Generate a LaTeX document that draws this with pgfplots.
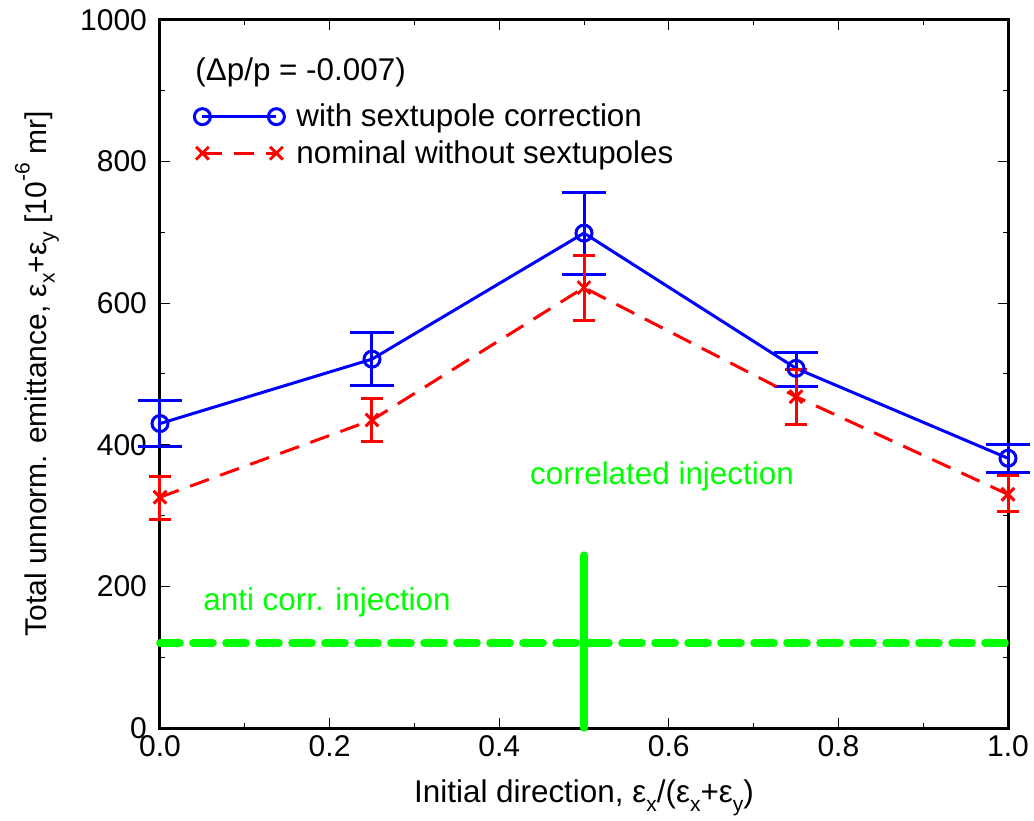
\documentclass[border=0pt]{standalone}
\usepackage{fontspec}
\setmainfont{Liberation Sans}
\usepackage{pgfplots}
\pgfplotsset{compat=1.18}
\usepackage{pgfplotstable}

\definecolor{gblue}{RGB}{0,0,255}
\definecolor{gred}{RGB}{255,0,0}
\definecolor{ggreen}{RGB}{0,255,0}

\newcommand\sub[1]{\raisebox{-0.28em}{\fontsize{10.5}{10.5}\selectfont #1}}
\newcommand\super[1]{\raisebox{0.55em}{\fontsize{10.5}{10.5}\selectfont #1}}

% x, value, upper error, lower error
\pgfplotstableread{
x    y    ep   em
0.00 430  32   33
0.25 521  37   37
0.50 699  58   59
0.75 508  23   25
1.00 381  20   20
}\withsext

\pgfplotstableread{
x    y    ep   em
0.00 326  29   32
0.25 435  30   30
0.50 622  45   47
0.75 468  39   40
1.00 330  27   24
}\nominal

\begin{document}
\begin{tikzpicture}[font=\fontsize{15}{18}\selectfont]
\begin{axis}[
  name=ax,
  scale only axis,
  width=424pt, height=354pt,
  xmin=0, xmax=1, ymin=0, ymax=1000,
  clip=false,
  axis line style={line width=1.5pt},
  tick style={black, line width=0.5pt},
  tick align=inside,
  major tick length=5pt,
  minor tick length=2.5pt,
  xtick={0,0.2,0.4,0.6,0.8,1.0},
  ytick={0,200,400,600,800,1000},
  minor x tick num=1,
  minor y tick num=1,
  xticklabel style={/pgf/number format/.cd, fixed, fixed zerofill, precision=1},
  yticklabel style={/pgf/number format/1000 sep={}, xshift=-3pt},
  /pgf/number format/assume math mode=true,
  scaled x ticks=false,
  xlabel={Initial direction, ε\sub{x}/(ε\sub{x}+ε\sub{y})},
  ylabel={Total unnorm. emittance, ε\sub{x}+ε\sub{y} [10\super{-6} mr]},
  xlabel style={at={([yshift=-35pt]axis description cs:0.5,0)}, anchor=center,
    font=\fontsize{15.7}{18}\selectfont},
  ylabel style={at={([xshift=-61.5pt]axis description cs:0,0.5)}, anchor=center},
  legend cell align=left,
  legend style={at={([xshift=17pt,yshift=-41.7pt]axis description cs:0,1)},
    anchor=north west, draw=none, fill=none, inner sep=0pt,
    nodes={inner sep=0pt},
    row sep=5.4pt,
    /tikz/every odd column/.append style={column sep=6pt},
    font=\fontsize{15.7}{18}\selectfont},
  legend image code/.code={\draw[#1] plot coordinates {(0pt,0pt) (37pt,0pt)};},
]

\addplot[gblue, line width=1.5pt, mark=o, mark size=4pt,
  error bars/.cd, y dir=both, y explicit,
  error bar style={line width=1.5pt, gblue},
  error mark options={rotate=90, line width=1.5pt, gblue, mark size=11pt}]
  table[x=x, y=y, y error plus=ep, y error minus=em] {\withsext};
\addlegendentry{with sextupole correction}

\addplot[gred, line width=1.5pt, dash pattern=on 10pt off 6pt, mark=x, mark size=4.5pt,
  mark options={solid},
  error bars/.cd, y dir=both, y explicit,
  error bar style={line width=1.5pt, gred, solid},
  error mark options={rotate=90, line width=1.5pt, gred, solid, mark size=5.5pt}]
  table[x=x, y=y, y error plus=ep, y error minus=em] {\nominal};
\addlegendentry{nominal without sextupoles}

\addplot[ggreen, line width=3.8pt, line cap=round, dash pattern=on 10pt off 6.5pt, forget plot]
  coordinates {(0,120) (1,120)};
\addplot[ggreen, line width=3.8pt, line cap=round, forget plot]
  coordinates {(0.5,0) (0.5,244)};

\node[anchor=west, inner sep=0pt, font=\fontsize{15.7}{18}\selectfont]
  at ([xshift=17.5pt,yshift=-26pt]axis description cs:0,1) {(Δp/p = -0.007)};
\node[ggreen, font=\fontsize{15.7}{18}\selectfont] at (axis cs:0.592,355) {correlated injection};
\node[ggreen, font=\fontsize{15.7}{18}\selectfont] at (axis cs:0.197,178) {anti corr. injection};
\end{axis}
\pgfresetboundingbox
\path[use as bounding box] ([xshift=-80pt,yshift=-46pt]ax.south west)
  rectangle ([xshift=13pt,yshift=10pt]ax.north east);
\end{tikzpicture}
\end{document}
